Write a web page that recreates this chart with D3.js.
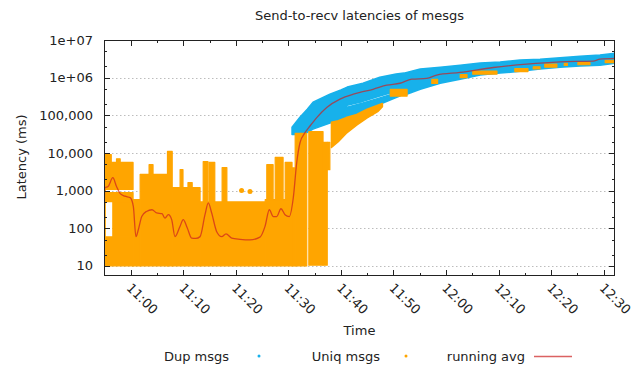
<!DOCTYPE html>
<html>
<head>
<meta charset="utf-8">
<script src="https://cdn.jsdelivr.net/npm/d3@7"></script>
<style>
  body { margin: 0; background: #fff; }
  text { font-family: "DejaVu Sans", sans-serif; fill: #222; }
</style>
</head>
<body>
<svg id="chart" width="640" height="369"></svg>
<script>
// all times are minutes after 11:00
const xStart = -5.08, xEnd = 92.16;
const xTickMinutes = [0, 10, 20, 30, 40, 50, 60, 70, 80, 90];
const xTickLabels = ['11:00', '11:10', '11:20', '11:30', '11:40', '11:50', '12:00', '12:10', '12:20', '12:30'];
const yMin = 5.4, yMax = 1e7;
const yTickValues = [10, 100, 1000, 10000, 100000, 1e6, 1e7];
const yTickLabels = ['10', '100', '1,000', '10,000', '100,000', '1e+06', '1e+07'];

// Dup msgs: dense band (upper part, and the strip under the white streak)
const dupTime = [30.7, 32.2, 33.6, 34.7, 37.9, 40.0, 41.2, 44.2, 47.4, 50.5, 52.0, 55.1, 58.9, 62.7, 66.5, 70.3, 74.1, 77.9, 81.7, 85.5, 89.3, 92.3];
const dupLow = [31000, 31000, 35000, 43000, 62000, 75000, 186000, 234000, 324000, 437000, 339000, 490000, 710000, 910000, 1.17e6, 1.32e6, 1.48e6, 1.7e6, 1.9e6, 2.03e6, 2.15e6, 2.44e6];
const dupHigh = [48000, 89000, 145000, 223000, 363000, 470000, 562000, 708000, 1.03e6, 1.25e6, 1.32e6, 1.7e6, 1.9e6, 2.15e6, 2.44e6, 2.6e6, 2.93e6, 3.1e6, 3.4e6, 3.7e6, 4.0e6, 4.5e6];
const dupLowerTime = [40.0, 41.2, 44.2, 47.4, 50.5, 51.3];
const dupLowerLow = [75000, 89000, 120000, 195000, 295000, 330000];
const dupLowerHigh = [75000, 165000, 212000, 290000, 390000, 330000];

// Uniq msgs: clusters of points (from, to, low, high)
const uniqFrom = [-5.2, -4.9, -4.9, -2.7, -4.9, -3.4, -4.9, 0.45, 1.8, 3.5, 7.0, 7.9, 9.4, 10.9, 13.2, 13.8, 14.9, 17.4, 25.6, 25.9, 27.5, 29.4, 30.7, 31.3, 33.9, 36.6, 37.4, 49.4, 57.3, 62.7, 65.1, 73.1, 76.6, 78.8, 82.5, 85.1, 90.3];
const uniqTo = [-4.85, 0.45, -3.7, -2.0, 0.45, 0.45, 0.45, 1.8, 7.0, 4.25, 7.9, 13.2, 9.95, 11.7, 25.6, 14.7, 16.0, 18.3, 30.7, 27.1, 29.0, 30.7, 31.3, 33.5, 36.6, 37.4, 37.9, 52.6, 58.4, 64.0, 69.7, 75.6, 77.9, 81.1, 83.1, 87.4, 92.3];
const uniqLow = [10, 1070, 1070, 1070, 510, 59, 10, 10, 10, 2700, 10, 10, 1200, 1200, 10, 500, 500, 500, 10, 575, 575, 575, 10, 10, 10.5, 10.5, 3600, 324000, 700000, 1.0e6, 1.24e6, 1.45e6, 1.7e6, 1.9e6, 2.1e6, 2.2e6, 2.5e6];
const uniqHigh = [6000, 5600, 9100, 7000, 890, 510, 59, 575, 2700, 4900, 11000, 1200, 3600, 1640, 500, 5900, 5600, 4100, 575, 4900, 7600, 5600, 4000, 33000, 37000, 19000, 19000, 490000, 900000, 1.2e6, 1.5e6, 1.75e6, 1.95e6, 2.3e6, 2.4e6, 2.5e6, 2.9e6];
// Uniq msgs: wedge just under the Dup band
const uniqWedgeTime = [38.2, 39.5, 41.0, 43.0, 45.0, 47.0, 47.9];
const uniqWedgeLow = [14000, 20000, 33000, 55000, 85000, 125000, 170000];
const uniqWedgeHigh = [65000, 72000, 87000, 105000, 145000, 185000, 205000];
const uniqDotTime = [21.1, 22.7];
const uniqDotValue = [1000, 950];

// running average
const avgTime = [-5.1, -4.9, -4.3, -3.4, -2.7, -2.0, -1.1, -0.1, 0.5, 1.0, 1.45, 2.1, 3.0, 4.05, 4.95, 5.96, 6.53, 7.16, 7.8, 8.43, 9.38, 10.0, 10.77, 11.6, 12.4, 13.2, 14.14, 14.77, 15.41, 16.37, 17.32, 18.14, 19.22, 20.8, 22.7, 24.6, 25.56, 26.38, 27.14, 27.78, 28.6, 29.36, 30.18, 30.94, 31.59, 32.22, 33.17, 34.12, 35.4, 37.3, 39.83, 42.36, 43.63, 46.11, 48.72, 51.25, 53.47, 56.33, 58.23, 62.66, 69.0, 75.36, 81.69, 88.03, 89.3, 92.16];
const avgValue = [60, 1200, 1290, 2200, 1290, 830, 710, 650, 380, 60, 91, 205, 280, 310, 255, 245, 185, 230, 170, 60, 112, 170, 102, 55, 54, 60, 230, 470, 255, 81, 60, 71, 55, 51, 49, 58, 112, 310, 205, 205, 330, 230, 205, 645, 5500, 18700, 34600, 52000, 87000, 162000, 270000, 363000, 407000, 490000, 630000, 710000, 910000, 955000, 1.17e6, 1.38e6, 1.86e6, 2.29e6, 2.63e6, 2.76e6, 3.1e6, 3.24e6];

const dupColor = '#17b1eb';
const uniqColor = '#ffa500';
const avgColor = '#cc2020';

const base = new Date(2021, 5, 1, 11, 0, 0).getTime();
const at = m => new Date(base + m * 60000);

const svg = d3.select('#chart');
const margin = { top: 40, right: 25, bottom: 93, left: 104 };
const width = 640 - margin.left - margin.right;
const height = 369 - margin.top - margin.bottom;

const g = svg.append('g').attr('transform', `translate(${margin.left},${margin.top})`);

const x = d3.scaleTime().domain([at(xStart), at(xEnd)]).range([0, width]);
const y = d3.scaleLog().domain([yMin, yMax]).range([height, 0]);

g.append('clipPath').attr('id', 'plot-clip')
 .append('rect').attr('width', width).attr('height', height);

// grid
g.selectAll('.grid')
 .data(yTickValues.filter(v => v < yMax))
 .enter().append('line')
 .attr('class', 'grid')
 .attr('x1', 0).attr('x2', width)
 .attr('y1', d => Math.round(y(d)) + 0.5).attr('y2', d => Math.round(y(d)) + 0.5)
 .attr('stroke', '#bdbdbd')
 .attr('stroke-dasharray', '1.5,2.5');

const plot = g.append('g').attr('clip-path', 'url(#plot-clip)');

// point clouds drawn as filled bands
const band = d3.area()
               .x(d => x(at(d.t)))
               .y0(d => y(d.lo))
               .y1(d => y(d.hi));

const cloud = (times, lows, highs, color) => {
  plot.append('path')
      .datum(times.map((t, i) => ({ t, lo: lows[i], hi: highs[i] })))
      .attr('fill', color)
      .attr('stroke', color)
      .attr('stroke-width', 1.5)
      .attr('stroke-linejoin', 'round')
      .attr('d', band);
};

// Dup msgs
cloud(dupTime, dupLow, dupHigh, dupColor);
cloud(dupLowerTime, dupLowerLow, dupLowerHigh, dupColor);

// Uniq msgs
plot.selectAll('.uniq')
    .data(uniqFrom.map((f, i) => ({ f, t: uniqTo[i], lo: uniqLow[i], hi: uniqHigh[i] })))
    .enter().append('rect')
    .attr('class', 'uniq')
    .attr('x', d => x(at(d.f)))
    .attr('width', d => x(at(d.t)) - x(at(d.f)))
    .attr('y', d => y(d.hi))
    .attr('height', d => y(d.lo) - y(d.hi))
    .attr('fill', uniqColor)
    .attr('stroke', uniqColor)
    .attr('stroke-width', 1.2)
    .attr('stroke-linejoin', 'round');

cloud(uniqWedgeTime, uniqWedgeLow, uniqWedgeHigh, uniqColor);

plot.selectAll('.uniq-dot')
    .data(uniqDotTime.map((t, i) => ({ t, v: uniqDotValue[i] })))
    .enter().append('circle')
    .attr('class', 'uniq-dot')
    .attr('cx', d => x(at(d.t)))
    .attr('cy', d => y(d.v))
    .attr('r', 2.5)
    .attr('fill', uniqColor);

// running avg
const line = d3.line()
               .x(d => x(at(d.t)))
               .y(d => y(d.v))
               .curve(d3.curveMonotoneX);

plot.append('path')
    .datum(avgTime.map((t, i) => ({ t, v: avgValue[i] })))
    .attr('fill', 'none')
    .attr('stroke', avgColor)
    .attr('stroke-opacity', 0.7)
    .attr('stroke-width', 1.3)
    .attr('d', line);

// axes: ticks inward on all four sides
const xMajor = xTickMinutes.map(at);
const xMinor = x.ticks(d3.timeMinute.every(5)).filter(d => d.getMinutes() % 10 === 5);
const yMinor = yTickValues.flatMap(v => [2 * v, 5 * v]).filter(v => v > yMin && v < yMax);

const ticks = g.append('g').attr('stroke', '#222').attr('stroke-width', 1);
xMajor.forEach(d => {
  const px = Math.round(x(d)) + 0.5;
  ticks.append('line').attr('x1', px).attr('x2', px).attr('y1', height).attr('y2', height - 6);
  ticks.append('line').attr('x1', px).attr('x2', px).attr('y1', 0).attr('y2', 6);
});
xMinor.forEach(d => {
  const px = Math.round(x(d)) + 0.5;
  ticks.append('line').attr('x1', px).attr('x2', px).attr('y1', height).attr('y2', height - 3);
  ticks.append('line').attr('x1', px).attr('x2', px).attr('y1', 0).attr('y2', 3);
});
yTickValues.forEach(v => {
  const py = Math.round(y(v)) + 0.5;
  ticks.append('line').attr('x1', 0).attr('x2', 6).attr('y1', py).attr('y2', py);
  ticks.append('line').attr('x1', width).attr('x2', width - 6).attr('y1', py).attr('y2', py);
});
yMinor.forEach(v => {
  const py = Math.round(y(v)) + 0.5;
  ticks.append('line').attr('x1', 0).attr('x2', 3).attr('y1', py).attr('y2', py);
  ticks.append('line').attr('x1', width).attr('x2', width - 3).attr('y1', py).attr('y2', py);
});

g.append('rect')
 .attr('x', 0.5).attr('y', 0.5)
 .attr('width', width - 1).attr('height', height - 1)
 .attr('fill', 'none')
 .attr('stroke', '#222');

// tick labels
g.selectAll('.ylabel')
 .data(yTickValues)
 .enter().append('text')
 .attr('class', 'ylabel')
 .attr('x', -11)
 .attr('y', d => y(d))
 .attr('dy', '0.35em')
 .attr('text-anchor', 'end')
 .style('font-size', '13px')
 .text((d, i) => yTickLabels[i]);

g.selectAll('.xlabel')
 .data(xMajor)
 .enter().append('text')
 .attr('class', 'xlabel')
 .attr('transform', d => `translate(${x(d) - 1.6},${height + 9.4}) rotate(45)`)
 .attr('dy', '0.35em')
 .attr('text-anchor', 'start')
 .style('font-size', '13px')
 .text((d, i) => xTickLabels[i]);

// titles
svg.append('text')
   .attr('x', margin.left + width / 2)
   .attr('y', 20)
   .attr('text-anchor', 'middle')
   .style('font-size', '13px')
   .text('Send-to-recv latencies of mesgs');

svg.append('text')
   .attr('x', margin.left + width / 2)
   .attr('y', 335)
   .attr('text-anchor', 'middle')
   .style('font-size', '13px')
   .text('Time');

svg.append('text')
   .attr('transform', `translate(25.5, 157) rotate(-90)`)
   .attr('text-anchor', 'middle')
   .style('font-size', '13px')
   .text('Latency (ms)');

// legend
const legendY = 356;
const legend = svg.append('g');
legend.append('text').attr('x', 229).attr('y', legendY).attr('dy', '0.35em')
      .attr('text-anchor', 'end').style('font-size', '13px').text('Dup msgs');
legend.append('circle').attr('cx', 259).attr('cy', legendY).attr('r', 1.5).attr('fill', dupColor);
legend.append('text').attr('x', 380).attr('y', legendY).attr('dy', '0.35em')
      .attr('text-anchor', 'end').style('font-size', '13px').text('Uniq msgs');
legend.append('circle').attr('cx', 406).attr('cy', legendY).attr('r', 1.5).attr('fill', uniqColor);
legend.append('text').attr('x', 525).attr('y', legendY).attr('dy', '0.35em')
      .attr('text-anchor', 'end').style('font-size', '13px').text('running avg');
legend.append('line').attr('x1', 534).attr('x2', 572).attr('y1', legendY + 0.5).attr('y2', legendY + 0.5)
      .attr('stroke', avgColor).attr('stroke-opacity', 0.7).attr('stroke-width', 1.3);
</script>
</body>
</html>
